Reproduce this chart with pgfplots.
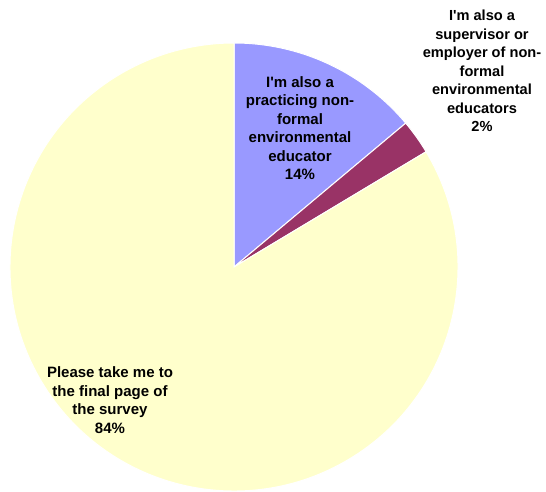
\documentclass[border=0pt]{standalone}
\usepackage{pgfplots}
\pgfplotsset{compat=1.18}
\usepackage{fontspec}
\setmainfont{Liberation Sans}
\definecolor{cA}{HTML}{9999FF}
\definecolor{cB}{HTML}{993366}
\definecolor{cC}{HTML}{FFFFCC}
% slice values (percent)
\def\va{13.9}
\def\vb{2.5}
\def\vc{83.6}
\pgfmathsetmacro\aA{90}
\pgfmathsetmacro\aB{90-3.6*\va}
\pgfmathsetmacro\aC{\aB-3.6*\vb}
\pgfmathsetmacro\aD{\aC-3.6*\vc}
\newcommand\q{\textquotesingle}
\begin{document}
\begin{tikzpicture}
\begin{axis}[name=ax, hide axis, scale only axis, x=1pt, y=1pt,
  xmin=0, xmax=546, ymin=0, ymax=492, clip=false]
\fill[cA, draw=white, line width=1pt] (axis cs:234,225) -- ++(\aA:224pt) arc[start angle=\aA, end angle=\aB, radius=224pt] -- cycle;
\fill[cB, draw=white, line width=1pt] (axis cs:234,225) -- ++(\aB:224pt) arc[start angle=\aB, end angle=\aC, radius=224pt] -- cycle;
\fill[cC, draw=white, line width=1pt] (axis cs:234,225) -- ++(\aC:224pt) arc[start angle=\aC, end angle=\aD, radius=224pt] -- cycle;
\node[align=center, font=\fontsize{15}{18.5}\selectfont\bfseries] at (axis cs:300,364)
  {I\q m also a\\practicing non-\\formal\\environmental\\educator\\14\%};
\node[align=center, font=\fontsize{14.6}{18.5}\selectfont\bfseries] at (axis cs:482,421)
  {I\q m also a\\supervisor or\\employer of non-\\formal\\environmental\\educators\\2\%};
\node[align=center, font=\fontsize{15}{18.5}\selectfont\bfseries] at (axis cs:110,92)
  {Please take me to\\the final page of\\the survey\\84\%};
\end{axis}
\pgfresetboundingbox
\path (ax.south west) rectangle (ax.north east);
\end{tikzpicture}
\end{document}
